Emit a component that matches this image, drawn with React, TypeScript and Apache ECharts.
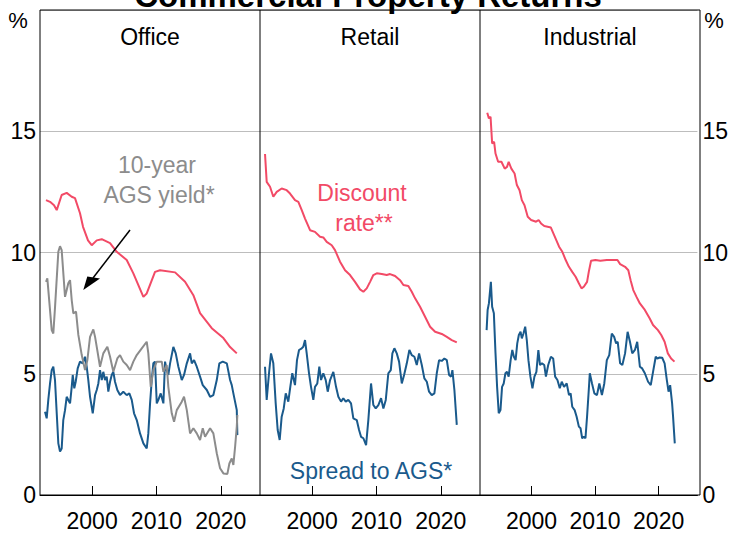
import React, { useEffect, useRef } from 'react';
import * as echarts from 'echarts';

const RED = '#F24A66';
const BLUE = '#1A5A8C';
const GREY = '#8C8C8C';
const FONT = "'Liberation Sans', Arial, sans-serif";

const title = 'Commercial Property Returns';
const panelTitles = ['Office', 'Retail', 'Industrial'];
const xTicks = [2000, 2010, 2020];
const X_MIN = 1991.9;
const X_MAX = 2026.1;

const officeDiscount: [number, number][] = [
  [1992.83, 12.16], [1993.46, 12.09], [1994.08, 11.95], [1994.5, 11.75], [1995.27, 12.37], [1996.05, 12.46],
  [1996.83, 12.3], [1997.34, 12.24], [1998.12, 11.62], [1998.59, 11.06], [1999.36, 10.5], [1999.94, 10.3],
  [2000.72, 10.5], [2001.5, 10.55], [2002.79, 10.39], [2003.83, 10.03], [2005.38, 9.69], [2006.41, 9.14],
  [2007.97, 8.17], [2008.49, 8.31], [2009.78, 9.2], [2010.56, 9.27], [2012.9, 9.18], [2014.45, 8.79],
  [2015.74, 8.24], [2016.78, 7.5], [2018.6, 6.88], [2020.41, 6.47], [2021.45, 6.1], [2022.49, 5.84],
];

const agsYield: [number, number][] = [
  [1992.83, 8.79], [1993.04, 8.93], [1993.72, 6.8], [1993.97, 6.66], [1994.24, 7.76], [1994.75, 10.03],
  [1995.01, 10.26], [1995.27, 10.1], [1995.79, 8.17], [1996.05, 8.45], [1996.3, 8.73], [1996.57, 8.86],
  [1996.83, 8.04], [1997.08, 7.49], [1997.5, 7.56], [1997.86, 6.6], [1998.39, 5.77], [1998.9, 5.15],
  [1999.26, 5.56], [1999.68, 6.52], [2000.19, 6.83], [2000.46, 6.52], [2000.72, 6.11], [2001.23, 5.29],
  [2001.74, 5.84], [2002.37, 6.11], [2002.79, 5.7], [2003.3, 5.08], [2003.92, 5.63], [2004.34, 5.77],
  [2004.85, 5.5], [2005.38, 5.36], [2005.9, 5.15], [2006.41, 5.5], [2006.94, 5.77], [2007.72, 6.05],
  [2008.49, 6.32], [2008.74, 5.84], [2009.12, 4.46], [2009.52, 5.15], [2010.05, 5.5], [2010.83, 5.5],
  [2011.08, 5.08], [2011.6, 5.36], [2011.85, 4.46], [2012.38, 3.37], [2012.74, 3.02], [2013.16, 3.5],
  [2013.94, 3.85], [2014.29, 4.05], [2014.72, 3.5], [2015.23, 2.54], [2015.74, 2.75], [2016.27, 2.54],
  [2016.78, 2.27], [2017.2, 2.75], [2017.56, 2.4], [2018.34, 2.75], [2018.85, 2.54], [2019.38, 1.72],
  [2019.89, 1.1], [2020.41, 0.89], [2021.03, 0.87], [2021.34, 1.3], [2021.71, 1.51], [2021.96, 1.24],
  [2022.23, 1.99], [2022.49, 2.82], [2022.58, 3.3],
];

const officeSpread: [number, number][] = [
  [1992.68, 3.43], [1992.94, 3.16], [1993.19, 3.92], [1993.46, 4.6], [1993.72, 5.15], [1993.97, 5.29],
  [1994.23, 4.74], [1994.5, 3.37], [1994.75, 2.13], [1995.01, 1.79], [1995.27, 1.92], [1995.52, 3.09],
  [1995.79, 3.5], [1996.05, 4.05], [1996.3, 3.92], [1996.57, 3.78], [1996.83, 4.46], [1996.99, 4.95],
  [1997.23, 4.4], [1997.45, 4.67], [1997.76, 5.22], [1998.12, 5.5], [1998.54, 5.43], [1998.9, 5.7],
  [1999.16, 5.29], [1999.41, 4.74], [1999.68, 4.05], [2000.1, 3.37], [2000.46, 4.12], [2000.72, 4.33],
  [2000.97, 4.6], [2001.23, 5.15], [2001.5, 4.74], [2001.74, 5.08], [2002.01, 4.74], [2002.27, 4.88],
  [2002.52, 4.26], [2002.79, 4.67], [2003.05, 4.95], [2003.3, 5.08], [2003.56, 4.67], [2003.92, 4.33],
  [2004.34, 4.12], [2004.85, 4.26], [2005.38, 4.12], [2005.79, 4.19], [2006.16, 3.92], [2006.52, 3.37],
  [2006.94, 3.09], [2007.45, 2.54], [2007.97, 2.13], [2008.49, 1.92], [2008.74, 2.54], [2009.01, 3.78],
  [2009.27, 4.74], [2009.52, 5.43], [2009.78, 5.5], [2010.05, 3.78], [2010.3, 3.92], [2010.67, 4.19],
  [2011.08, 3.78], [2011.34, 5.5], [2011.6, 5.15], [2011.85, 4.95], [2012.12, 5.43], [2012.63, 6.11],
  [2013.0, 5.84], [2013.41, 5.29], [2013.94, 4.74], [2014.29, 4.95], [2014.72, 5.43], [2015.23, 5.84],
  [2015.49, 5.43], [2015.85, 5.56], [2016.27, 5.29], [2016.78, 4.88], [2017.2, 4.53], [2017.83, 4.33],
  [2018.34, 4.05], [2018.85, 4.12], [2019.38, 4.74], [2019.78, 5.43], [2020.31, 5.5], [2020.94, 5.43],
  [2021.45, 4.74], [2021.71, 4.53], [2021.96, 4.19], [2022.49, 3.5], [2022.58, 2.47],
];

const retailDiscount: [number, number][] = [
  [1992.68, 14.06], [1992.94, 12.91], [1993.46, 12.71], [1993.97, 12.3], [1994.5, 12.5], [1995.27, 12.64],
  [1996.05, 12.57], [1996.57, 12.43], [1997.34, 12.16], [1997.86, 12.09], [1998.39, 11.75], [1998.9, 11.4],
  [1999.68, 10.92], [2000.45, 10.85], [2001.23, 10.65], [2001.74, 10.62], [2002.27, 10.44], [2003.05, 10.3],
  [2003.56, 10.1], [2004.34, 9.62], [2005.12, 9.27], [2005.9, 9.07], [2006.67, 8.79], [2007.45, 8.48],
  [2007.97, 8.38], [2008.49, 8.52], [2009.01, 8.79], [2009.52, 9.07], [2010.05, 9.14], [2010.83, 9.11],
  [2011.6, 9.07], [2012.12, 9.11], [2012.9, 9.03], [2013.67, 8.86], [2014.19, 8.66], [2014.96, 8.62],
  [2015.49, 8.38], [2016.01, 8.11], [2016.78, 7.76], [2017.56, 7.35], [2018.34, 6.94], [2019.12, 6.73],
  [2020.16, 6.64], [2020.94, 6.52], [2021.71, 6.39], [2022.49, 6.29],
];

const retailSpread: [number, number][] = [
  [1992.68, 5.29], [1992.94, 3.92], [1993.3, 5.02], [1993.61, 5.84], [1993.97, 5.43], [1994.34, 3.78],
  [1994.65, 2.68], [1994.96, 2.27], [1995.27, 3.23], [1995.59, 3.57], [1995.9, 4.19], [1996.3, 3.85],
  [1996.61, 4.46], [1996.92, 5.02], [1997.34, 4.53], [1997.65, 5.56], [1997.97, 5.98], [1998.39, 6.05],
  [1998.63, 6.11], [1998.9, 6.39], [1999.16, 5.84], [1999.52, 5.02], [1999.83, 4.46], [2000.19, 3.92],
  [2000.45, 4.46], [2000.81, 4.6], [2001.12, 5.29], [2001.39, 4.74], [2001.74, 5.02], [2002.12, 4.74],
  [2002.43, 4.26], [2002.79, 4.74], [2003.3, 5.08], [2003.72, 4.46], [2004.08, 4.05], [2004.5, 3.85],
  [2004.85, 3.99], [2005.23, 3.85], [2005.63, 3.92], [2006.05, 3.78], [2006.41, 3.16], [2006.94, 3.09],
  [2007.3, 2.68], [2007.61, 2.4], [2007.97, 2.34], [2008.39, 2.06], [2008.74, 3.09], [2009.16, 4.6],
  [2009.52, 3.71], [2009.89, 3.57], [2010.3, 3.71], [2010.72, 3.99], [2011.08, 3.57], [2011.45, 3.92],
  [2011.85, 5.02], [2012.23, 5.15], [2012.48, 5.84], [2012.79, 6.05], [2013.16, 5.84], [2013.52, 5.5],
  [2013.94, 4.6], [2014.3, 4.95], [2014.72, 5.43], [2015.12, 5.98], [2015.49, 5.77], [2015.9, 5.7],
  [2016.27, 5.36], [2016.63, 5.84], [2017.05, 5.36], [2017.45, 4.81], [2017.83, 4.67], [2018.18, 4.26],
  [2018.6, 4.12], [2019.01, 4.19], [2019.38, 5.02], [2019.74, 5.56], [2020.16, 5.53], [2020.56, 5.63],
  [2020.94, 5.56], [2021.29, 4.95], [2021.6, 4.88], [2021.81, 5.15], [2022.12, 4.33], [2022.49, 2.89],
];

const industrialDiscount: [number, number][] = [
  [1993.04, 15.76], [1993.3, 15.53], [1993.56, 15.6], [1993.81, 14.5], [1994.12, 14.56], [1994.34, 14.08],
  [1994.75, 13.74], [1995.27, 13.74], [1995.79, 13.46], [1996.15, 13.53], [1996.41, 13.74], [1996.83, 13.46],
  [1997.34, 13.26], [1997.7, 12.78], [1998.12, 12.57], [1998.48, 12.16], [1998.9, 11.95], [1999.41, 11.47],
  [1999.94, 11.34], [2000.72, 11.27], [2001.12, 11.34], [2001.5, 11.2], [2002.01, 11.09], [2003.05, 11.03],
  [2003.56, 10.72], [2004.34, 10.24], [2004.85, 10.03], [2005.38, 9.69], [2005.89, 9.41], [2006.41, 9.2],
  [2006.94, 9.0], [2007.45, 8.73], [2007.87, 8.52], [2008.23, 8.59], [2008.74, 8.79], [2009.01, 9.2],
  [2009.37, 9.66], [2010.05, 9.69], [2010.83, 9.66], [2011.85, 9.69], [2012.9, 9.69], [2013.52, 9.69],
  [2013.94, 9.52], [2014.72, 9.41], [2015.23, 9.27], [2015.59, 8.86], [2016.01, 8.45], [2016.52, 8.17],
  [2017.05, 7.9], [2017.83, 7.63], [2018.6, 7.28], [2019.12, 7.01], [2019.89, 6.8], [2020.41, 6.6],
  [2020.94, 6.32], [2021.45, 5.84], [2021.96, 5.63], [2022.49, 5.5],
];

const industrialSpread: [number, number][] = [
  [1992.94, 6.8], [1993.1, 7.63], [1993.3, 7.9], [1993.61, 8.79], [1993.81, 7.76], [1994.08, 7.49],
  [1994.34, 5.84], [1994.59, 4.46], [1994.85, 3.37], [1995.12, 3.5], [1995.37, 4.46], [1995.63, 4.6],
  [1995.9, 5.02], [1996.15, 5.08], [1996.41, 4.88], [1996.72, 5.56], [1996.98, 5.98], [1997.23, 5.7],
  [1997.5, 5.56], [1997.76, 6.25], [1998.01, 6.6], [1998.28, 6.73], [1998.48, 6.46], [1998.74, 6.66],
  [1999.01, 6.94], [1999.26, 6.39], [1999.52, 5.56], [1999.83, 4.88], [2000.15, 4.4], [2000.46, 4.88],
  [2000.77, 5.08], [2001.08, 5.98], [2001.34, 5.36], [2001.65, 5.43], [2002.01, 5.36], [2002.27, 4.88],
  [2002.63, 5.36], [2003.05, 5.7], [2003.41, 5.63], [2003.72, 4.88], [2004.08, 4.74], [2004.45, 4.4],
  [2004.76, 4.67], [2005.12, 4.46], [2005.54, 4.6], [2005.9, 4.12], [2006.16, 4.19], [2006.41, 3.64],
  [2006.79, 3.5], [2007.1, 3.23], [2007.45, 2.82], [2007.72, 2.75], [2007.97, 2.34], [2008.23, 2.4],
  [2008.49, 2.34], [2008.74, 3.23], [2009.01, 4.33], [2009.17, 5.02], [2009.52, 4.6], [2009.89, 4.19],
  [2010.3, 4.12], [2010.67, 4.6], [2011.08, 4.12], [2011.45, 4.6], [2011.85, 5.56], [2012.23, 5.77],
  [2012.63, 6.66], [2013.0, 6.52], [2013.31, 6.25], [2013.56, 6.32], [2013.94, 5.43], [2014.29, 5.36],
  [2014.72, 5.84], [2015.12, 6.73], [2015.49, 6.32], [2015.85, 5.84], [2016.27, 5.98], [2016.63, 6.32],
  [2017.05, 5.29], [2017.41, 5.22], [2017.83, 5.02], [2018.34, 4.67], [2018.76, 4.53], [2019.12, 5.08],
  [2019.54, 5.7], [2019.79, 5.63], [2020.16, 5.67], [2020.56, 5.66], [2020.94, 5.43], [2021.29, 4.74],
  [2021.56, 4.26], [2021.81, 4.53], [2022.12, 3.78], [2022.27, 3.23], [2022.54, 2.13],
];

export default function App() {
  const ref = useRef<HTMLDivElement>(null);

  useEffect(() => {
    if (!ref.current) return;
    const chart = echarts.init(ref.current, null, { renderer: 'svg' });

    const panelSeries = [
      [
        { name: 'Discount rate', data: officeDiscount, color: RED },
        { name: 'Spread to AGS', data: officeSpread, color: BLUE },
        { name: '10-year AGS yield', data: agsYield, color: GREY },
      ],
      [
        { name: 'Discount rate', data: retailDiscount, color: RED },
        { name: 'Spread to AGS', data: retailSpread, color: BLUE },
      ],
      [
        { name: 'Discount rate', data: industrialDiscount, color: RED },
        { name: 'Spread to AGS', data: industrialSpread, color: BLUE },
      ],
    ];

    const PL = 40, PW = 220, PT = 10, PH = 485;

    const grid = panelTitles.map((_, i) => ({
      left: PL + PW * i, top: PT, width: PW, height: PH, show: false,
    }));

    const xAxis = panelTitles.map((_, i) => ({
      type: 'value', gridIndex: i, min: X_MIN, max: X_MAX,
      splitLine: { show: false },
      axisLine: { show: true, lineStyle: { color: '#000', width: 1 } },
      axisTick: { show: true, inside: true, length: 9, customValues: xTicks, lineStyle: { color: '#000', width: 1 } },
      axisLabel: {
        customValues: xTicks, fontSize: 23, color: '#000', margin: 14, fontFamily: FONT,
        formatter: (v: number) => String(Math.round(v)),
      },
    }));

    const yAxis = panelTitles.map((_, i) => ({
      type: 'value', gridIndex: i, min: 0, max: 20, interval: 5,
      position: i === 2 ? 'right' : 'left',
      axisLine: { show: false },
      axisTick: { show: false },
      splitLine: { show: true, lineStyle: { color: '#BDBDBD', width: 1 } },
      axisLabel: {
        show: i !== 1, showMaxLabel: false, fontSize: 23, color: '#000',
        margin: i === 2 ? 5 : 4, fontFamily: FONT,
      },
    }));

    const series: any[] = [];
    panelSeries.forEach((list, i) => {
      list.forEach((s) => {
        series.push({
          type: 'line', name: s.name, data: s.data, xAxisIndex: i, yAxisIndex: i,
          showSymbol: false, symbol: 'none', lineStyle: { color: s.color, width: 2 },
          itemStyle: { color: s.color },
        });
      });
    });

    const txt = (text: string, x: number, y: number, color: string, size = 23, extra: any = {}) => ({
      type: 'text', x, y, z: 100,
      style: { text, fill: color, font: `${extra.weight || 'normal'} ${size}px ${FONT}`, align: extra.align || 'center', verticalAlign: 'middle' },
    });

    const graphic: any[] = [
      { type: 'rect', z: 100, shape: { x: PL, y: PT, width: PW * 3, height: PH }, style: { fill: 'none', stroke: '#000', lineWidth: 1 } },
      { type: 'line', z: 100, shape: { x1: PL + PW, y1: PT, x2: PL + PW, y2: PT + PH }, style: { stroke: '#000', lineWidth: 1 } },
      { type: 'line', z: 100, shape: { x1: PL + PW * 2, y1: PT, x2: PL + PW * 2, y2: PT + PH }, style: { stroke: '#000', lineWidth: 1 } },
      txt(title, 368, -5, '#000', 33, { weight: 'bold' }),
      txt('%', 18, 20, '#000', 22),
      txt('%', 714, 20, '#000', 22),
      ...panelTitles.map((t, i) => txt(t, PL + PW * i + PW / 2, 37, '#000', 23)),
      txt('10-year', 157, 165, GREY),
      txt('AGS yield*', 159, 195, GREY),
      txt('Discount', 362, 193, RED),
      txt('rate**', 364, 223, RED),
      txt('Spread to AGS*', 371, 471, BLUE),
      { type: 'line', z: 100, shape: { x1: 130, y1: 230, x2: 93, y2: 278 }, style: { stroke: '#000', lineWidth: 1.5 } },
      { type: 'polygon', z: 100, shape: { points: [[83.3, 290], [87.3, 276.5], [100, 278.5]] }, style: { fill: '#000' } },
    ];

    chart.setOption({
      animation: false,
      grid, xAxis, yAxis, series, graphic,
    });

    return () => chart.dispose();
  }, []);

  return (
    <div
      ref={ref}
      style={{ position: 'fixed', left: 0, top: 0, width: 731, height: 534, background: '#fff' }}
    />
  );
}
